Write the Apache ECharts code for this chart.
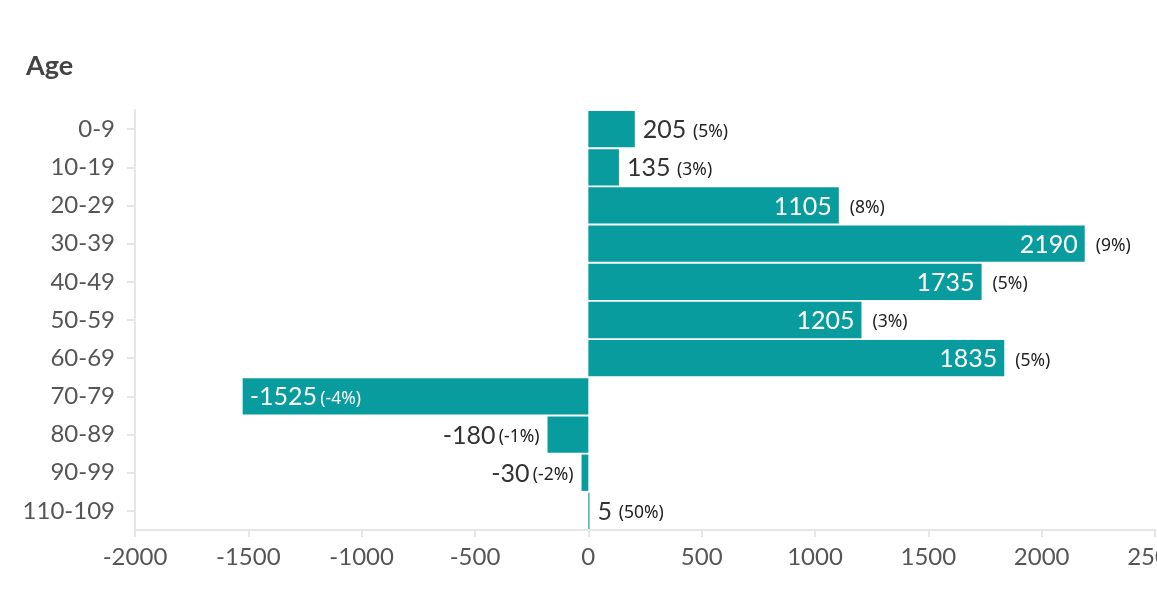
<!DOCTYPE html>
<html><head><meta charset="utf-8">
<script src="https://cdn.jsdelivr.net/npm/echarts@6/dist/echarts.min.js"></script>
<style>html,body{margin:0;padding:0;background:#fff}#c{width:1157px;height:600px}</style>
</head><body><div id="c"></div>
<script>
const categories = ['0-9','10-19','20-29','30-39','40-49','50-59','60-69','70-79','80-89','90-99','110-109'];
const values = [205, 135, 1105, 2190, 1735, 1205, 1835, -1525, -180, -30, 5];
const pcts = ['5%','3%','8%','9%','5%','3%','5%','-4%','-1%','-2%','50%'];
const xTicks = { min: -2000, max: 2500, interval: 500 };

const FONT = 'Lato';
const PFONT = 'Noto Sans';
const BAR = '#089c9e';
const rich = {
  v: { fontSize: 25, fontFamily: FONT, color: '#333', padding: [2,0,0,0] },
  p: { fontSize: 17.5, fontFamily: PFONT, color: '#222', padding: [5,0,0,0] },
  vw: { fontSize: 25, fontFamily: FONT, color: '#fff', padding: [2,0,0,0] },
  pw: { fontSize: 17.5, fontFamily: PFONT, color: '#fff', padding: [5,0,0,0] }
};
const BIG = 500;

const mainData = values.map((v, i) => {
  let label;
  if (v >= BIG) {
    label = { show: true, position: 'insideRight', distance: 7, formatter: '{vw|' + v + '}', rich };
  } else if (v <= -BIG) {
    label = { show: true, position: 'insideLeft', distance: 7, formatter: '{vw|' + v + '} {pw|(' + pcts[i] + ')}', rich };
  } else if (v >= 0) {
    label = { show: true, position: 'right', distance: 8, formatter: '{v|' + v + '}  {p|(' + pcts[i] + ')}', rich };
  } else {
    label = { show: true, position: 'left', distance: 8, formatter: '{v|' + v + '} {p|(' + pcts[i] + ')}', rich };
  }
  return { value: v, label };
});
const pctData = values.map((v, i) => ({
  value: v,
  label: v >= BIG ? { show: true, position: 'right', distance: 11, formatter: '{p|(' + pcts[i] + ')}', rich } : { show: false }
}));

const chart = echarts.init(document.getElementById('c'));
chart.setOption({
  animation: false,
  title: { text: 'Age', left: 21, top: 48, textStyle: { fontFamily: FONT, fontSize: 27, fontWeight: 'bold', color: '#444' } },
  grid: { left: 135, right: 2, top: 110, bottom: 70, containLabel: false, outerBoundsMode: 'none' },
  xAxis: {
    type: 'value', min: xTicks.min, max: xTicks.max, interval: xTicks.interval,
    splitLine: { show: false },
    axisLine: { show: true, lineStyle: { color: '#e6e6e6', width: 2 } },
    axisTick: { show: true, length: 7, lineStyle: { color: '#e6e6e6', width: 2 } },
    axisLabel: { fontFamily: FONT, fontSize: 24, color: '#555', margin: 15, formatter: v => String(v), hideOverlap: false }
  },
  yAxis: {
    type: 'category', data: categories, inverse: true,
    axisLine: { show: true, onZero: false, lineStyle: { color: '#e6e6e6', width: 2 } },
    axisTick: { show: true, length: 8, alignWithLabel: true, lineStyle: { color: '#e6e6e6', width: 2 } },
    axisLabel: { fontFamily: FONT, fontSize: 24, color: '#555', margin: 20, padding: [3,0,0,0] }
  },
  series: [
    { type: 'bar', data: mainData, itemStyle: { color: BAR }, barCategoryGap: '5%' },
    { type: 'bar', data: pctData, itemStyle: { color: 'rgba(0,0,0,0)' }, barGap: '-100%', barCategoryGap: '5%', silent: true, z: 3 }
  ]
});
</script></body></html>
